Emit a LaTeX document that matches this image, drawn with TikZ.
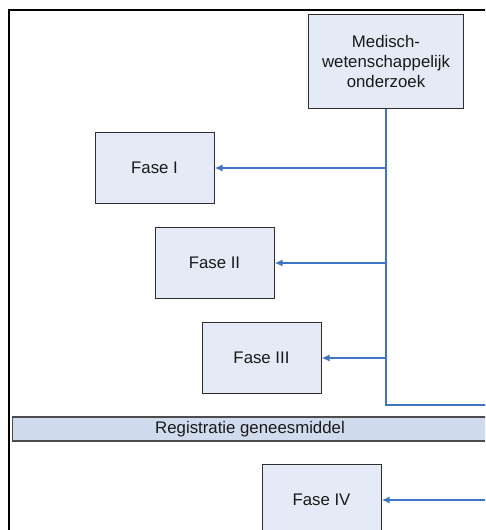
\documentclass[tikz,border=0pt]{standalone}
\usepackage{fontspec}
\setmainfont{Liberation Sans}
\usetikzlibrary{arrows.meta,patterns}
\definecolor{boxfill}{HTML}{E5EBF6}
\definecolor{barfill}{HTML}{D0DCEE}
\definecolor{linkblue}{HTML}{3F74C6}
\definecolor{boxline}{HTML}{2E2E2E}
\tikzset{
  labelfont/.style={font=\fontsize{16.8}{20}\selectfont, text=black!90},
  phasebox/.style={draw=boxline, line width=1pt, fill=boxfill, minimum width=119pt, minimum height=71pt, inner sep=0pt, align=center, labelfont},
  link/.style={draw=linkblue, line width=1.6pt},
  linkarrow/.style={link, -{Latex[length=8pt,width=7pt]}},
  regbar/.style={draw=black!70, line width=1.3pt, fill=barfill, minimum height=24pt, inner sep=0pt}
}
\begin{document}
\begin{tikzpicture}[x=1pt,y=-1pt]
\useasboundingbox (0,0) rectangle (485,530);
\clip (0,0) rectangle (485,530);
% frame
\draw[line width=2pt,black] (9,540) -- (9,10) -- (495,10);
% boxes
\node[phasebox, minimum width=155pt, minimum height=94pt] (med) at (386,61) {Medisch-\\wetenschappelijk\\onderzoek};
\node[phasebox] (f1) at (154.5,168) {Fase I};
\node[phasebox] (f2) at (214.5,263) {Fase II};
\node[phasebox] (f3) at (261.5,358) {Fase III};
\node[phasebox] (f4) at (321.5,500) {Fase IV};
% registration bar
\node[regbar, minimum width=500pt, anchor=west] (reg) at (12,429) {};
\node[labelfont] (regtext) at (250,429) {Registratie geneesmiddel};
% connectors
\coordinate (bend) at (med.south |- 0,405);
\coordinate (exit) at (495,405);
\coordinate (enter) at (495,500);
\draw[link] (med.south) -- (bend) -- (exit);
\draw[linkarrow] (med.south |- f1.east) -- (f1.east);
\draw[linkarrow] (med.south |- f2.east) -- (f2.east);
\draw[linkarrow] (med.south |- f3.east) -- (f3.east);
\draw[linkarrow] (enter) -- (f4.east);
\end{tikzpicture}
\end{document}
